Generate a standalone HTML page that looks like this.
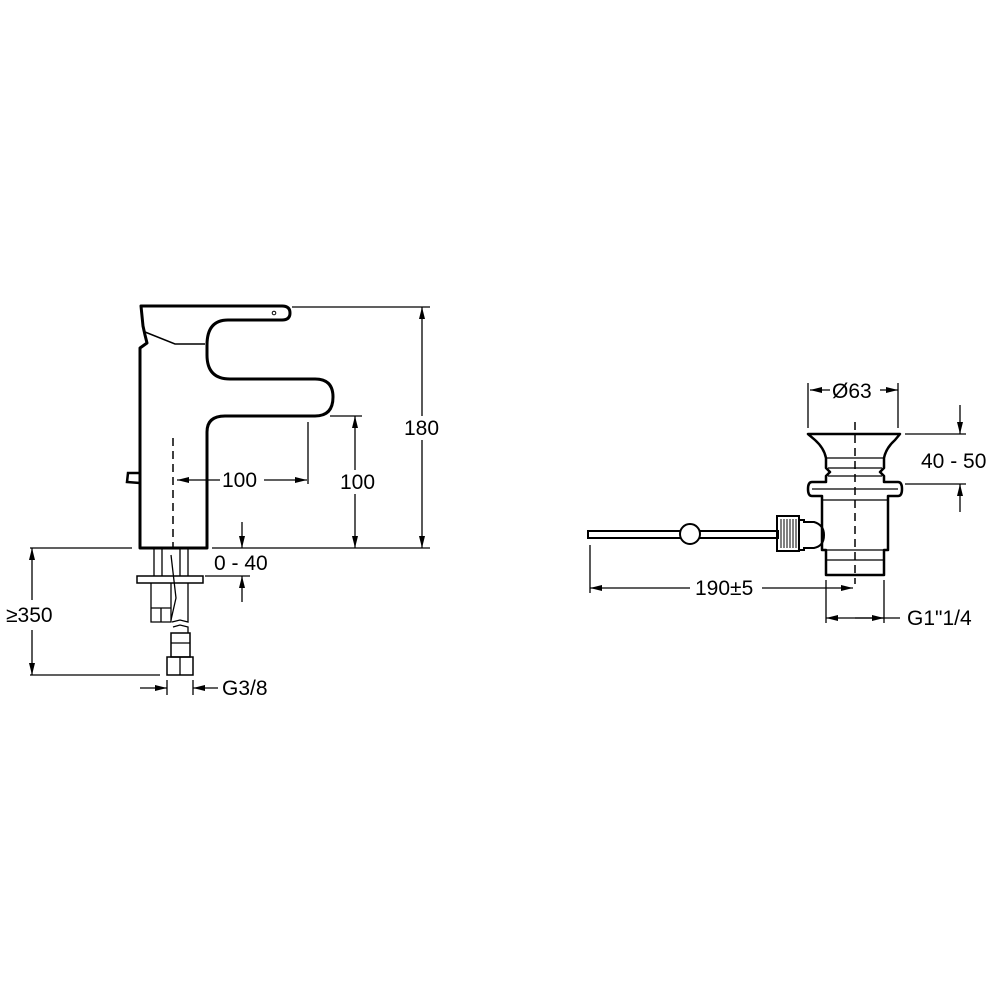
<!DOCTYPE html>
<html><head><style>html,body{margin:0;padding:0;background:#fff}svg{display:block}text{font-family:"Liberation Sans",Arial,sans-serif;font-size:21px;fill:#000}</style></head>
<body>
<svg width="1000" height="1000" viewBox="0 0 1000 1000" xmlns="http://www.w3.org/2000/svg">
<defs>
<marker id="a" viewBox="0 0 12 6" refX="12" refY="3" markerWidth="12" markerHeight="6" orient="auto-start-reverse" markerUnits="userSpaceOnUse"><path d="M0,0 L12,3 L0,6 z" fill="#000"/></marker>
</defs>
<g fill="none" stroke="#000" stroke-width="1.3">
<!-- FAUCET -->
<path stroke-width="3" stroke-linejoin="round" d="M141,306 L282,306 Q290,306 290,313 Q290,320 282,320 L228,320 Q207,320 207,345 L207,355 Q207,379 230,379 L315,379 Q333,379 333,397 Q333,416 315,416 L225,416 Q207,416 207,432 L207,548 L140,548 L140,348 L147,343 L145,335 L143,326 L142,316 L141,306 Z"/>
<path stroke-width="1.5" d="M145,332 L175,344 L205,344"/>
<circle cx="274" cy="313" r="1.8" stroke-width="1"/>
<path stroke-width="2.5" d="M140,473 L128,473 L127,482 L140,483"/>
<line x1="173" y1="438" x2="173" y2="548" stroke-dasharray="8,5" stroke-width="1.5"/>
<path d="M154,549 V576 M162,549 V576 M180,549 V576 M188,549 V576"/>
<rect x="137" y="576" width="66" height="7" stroke-width="1.5"/>
<path d="M151,583 V622 H171 V583 M151,608 H171 M161,608 V622"/>
<path d="M171,555 L176,598 L171,620"/>
<path d="M188,583 V622 L180,620 L172,622 M173,627 L180,625 L188,627 V633"/>
<rect x="171" y="633" width="19" height="24" stroke-width="1.5"/>
<line x1="171" y1="643" x2="190" y2="643"/>
<rect x="167" y="657" width="26" height="18" stroke-width="1.5"/>
<line x1="180" y1="657" x2="180" y2="675"/>
<path d="M30,548 H132 M212,548 H430 M292,307 H430 M330,416 H362 M308,422 V484 M30,675 H160"/>
<line x1="422" y1="307" x2="422" y2="548" marker-start="url(#a)" marker-end="url(#a)"/>
<line x1="355" y1="416" x2="355" y2="548" marker-start="url(#a)" marker-end="url(#a)"/>
<line x1="177" y1="480" x2="220" y2="480" marker-start="url(#a)"/>
<line x1="264" y1="480" x2="307" y2="480" marker-end="url(#a)"/>
<line x1="242" y1="522" x2="242" y2="548" marker-end="url(#a)"/>
<line x1="242" y1="602" x2="242" y2="576" marker-end="url(#a)"/>
<line x1="205" y1="576" x2="250" y2="576"/>
<line x1="32" y1="548" x2="32" y2="600" marker-start="url(#a)"/>
<line x1="32" y1="630" x2="32" y2="675" marker-end="url(#a)"/>
<path d="M167,680 V695 M193,680 V695"/>
<line x1="140" y1="688" x2="167" y2="688" marker-end="url(#a)"/>
<line x1="218" y1="688" x2="193" y2="688" marker-end="url(#a)"/>
<!-- DRAIN -->
<path stroke-width="2.5" stroke-linejoin="round" d="M808,434 H900 L895,440 Q886,448 884,458 V468 L880,472 L884,476 V482 H898 Q902,482 902,489 Q902,496 898,496 H888 V550 H884 V575 H826 V550 H822 V496 H812 Q808,496 808,489 Q808,482 812,482 H826 V476 L830,472 L826,468 V458 Q824,448 815,440 Z"/>
<path d="M826,458 H884 M828,468 H882 M828,476 H882 M812,489 H898 M822,500 H888 M822,550 H888 M826,560 H884"/>
<line x1="855" y1="422" x2="855" y2="584" stroke-dasharray="8,5" stroke-width="1.5"/>
<rect x="588" y="531" width="190" height="7" stroke-width="2"/>
<circle cx="690" cy="534" r="10" fill="#fff" stroke-width="2"/>
<rect x="777" y="516" width="22" height="35" stroke-width="2"/>
<path d="M781,519 V548 M784,519 V548 M787,519 V548 M790,519 V548 M793,519 V548 M796,519 V548" stroke-width="1"/>
<path stroke-width="2" d="M799,520 H804 V522 H814 Q824,525 824,535 Q824,546 814,548 H804 V550 H799"/>
<path d="M808,383 V428 M898,383 V428 M905,434 H966 M905,484 H966 M590,545 V593 M826,580 V623 M884,580 V623"/>
<line x1="810" y1="390" x2="830" y2="390" marker-start="url(#a)"/>
<line x1="880" y1="390" x2="898" y2="390" marker-end="url(#a)"/>
<line x1="960" y1="405" x2="960" y2="434" marker-end="url(#a)"/>
<line x1="960" y1="512" x2="960" y2="484" marker-end="url(#a)"/>
<line x1="590" y1="588" x2="690" y2="588" marker-start="url(#a)"/>
<line x1="762" y1="588" x2="853" y2="588" marker-end="url(#a)"/>
<line x1="826" y1="618" x2="900" y2="618" marker-start="url(#a)"/>
<line x1="855" y1="618" x2="884" y2="618" marker-end="url(#a)"/>
</g>
<rect x="954" y="450" width="12" height="20" fill="#fff"/>
<rect x="403" y="416" width="40" height="24" fill="#fff"/>
<rect x="339" y="470" width="40" height="24" fill="#fff"/>
<text x="404" y="435">180</text>
<text x="340" y="489">100</text>
<text x="222" y="487">100</text>
<text x="214" y="570">0 - 40</text>
<text x="6" y="622">≥350</text>
<text x="222" y="695">G3/8</text>
<text x="832" y="398">Ø63</text>
<text x="921" y="468">40 - 50</text>
<text x="695" y="595">190±5</text>
<text x="907" y="625">G1"1/4</text>
</svg>
</body></html>
